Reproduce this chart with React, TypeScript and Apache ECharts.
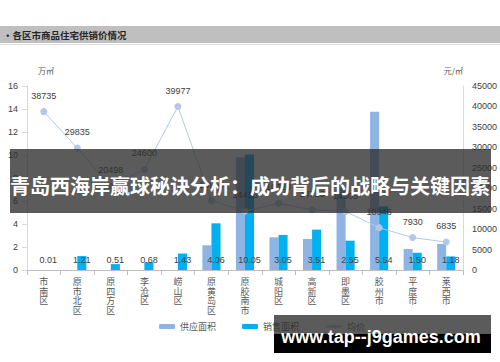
import React, { useEffect, useRef } from "react";
import * as echarts from "echarts";

const categories = ["市南区", "原市北区", "原四方区", "李沧区", "崂山区", "原黄岛区", "原胶南市", "城阳区", "高新区", "即墨区", "胶州市", "平度市", "莱西市"];
const supplyArea = [0, 0, 0, 0, 0, 2.15, 9.8, 2.84, 2.7, 7.2, 13.77, 1.83, 2.26];
const salesArea = [0.01, 1.21, 0.51, 0.68, 1.43, 4.06, 10.05, 3.05, 3.51, 2.55, 5.54, 1.5, 1.18];
const avgPrice = [38735, 29835, 20498, 24600, 39977, 16950, 14416, 16320, 14716, 14305, 10346, 7930, 6835];
const seriesNames = ["供应面积", "销售面积", "均价"];
const chartTitle = "•各区市商品住宅供销价情况";
const bannerText = "青岛西海岸赢球秘诀分析：成功背后的战略与关键因素";
const siteText = "www.tap--j9games.com";

const FONT = "'Liberation Sans', 'Noto Sans CJK SC', sans-serif";
const CJK = "'Noto Sans CJK SC', sans-serif";

export default function App() {
  const ref = useRef<HTMLDivElement>(null);
  useEffect(() => {
    if (!ref.current) return;
    const chart = echarts.init(ref.current, null, { renderer: "svg" });
    chart.setOption({
      animation: false,
      backgroundColor: "#ffffff",
      textStyle: { fontFamily: FONT },
      grid: { left: 27, right: 37, top: 86, bottom: 92, containLabel: false },
      legend: {
        left: 154,
        top: 317,
        itemWidth: 16,
        itemHeight: 5,
        itemGap: 26,
        textStyle: { fontSize: 9, color: "#595959", fontFamily: CJK },
        data: seriesNames,
      },
      xAxis: {
        type: "category",
        data: categories,
        axisLine: { lineStyle: { color: "#bfbfbf" } },
        axisTick: { show: true, length: 5, lineStyle: { color: "#bfbfbf" } },
        axisLabel: {
          interval: 0,
          margin: 7,
          fontSize: 9,
          lineHeight: 9.5,
          color: "#595959",
          fontFamily: CJK,
          formatter: (v: string) => v.split("").join("\n"),
        },
      },
      yAxis: [
        {
          type: "value",
          name: "万㎡",
          nameGap: 12,
          nameTextStyle: { fontSize: 8, color: "#595959", fontFamily: CJK, align: "left", padding: [0, 0, 0, 11] },
          min: 0,
          max: 16,
          interval: 2,
          axisLine: { show: true, lineStyle: { color: "#d9d9d9" } },
          axisTick: { show: true, length: 5, lineStyle: { color: "#d9d9d9" } },
          axisLabel: { fontSize: 9, color: "#404040", margin: 9 },
          splitLine: { show: false },
        },
        {
          type: "value",
          name: "元/㎡",
          nameGap: 12,
          nameTextStyle: { fontSize: 8, color: "#595959", fontFamily: CJK, align: "right", padding: [0, 0, 0, 0] },
          min: 0,
          max: 45000,
          interval: 5000,
          axisLine: { show: true, lineStyle: { color: "#d9d9d9" } },
          axisTick: { show: false },
          axisLabel: { fontSize: 9, color: "#404040", margin: 9, formatter: (v: number) => String(v) },
          splitLine: { show: false },
        },
      ],
      series: [
        {
          name: seriesNames[0],
          type: "bar",
          data: supplyArea,
          barWidth: "27%",
          barGap: "0%",
          itemStyle: { color: "#8eb4e3" },
        },
        {
          name: seriesNames[1],
          type: "bar",
          data: salesArea,
          barWidth: "27%",
          itemStyle: { color: "#00b0f0" },
          label: {
            show: true,
            position: "insideBottom",
            distance: 6,
            fontSize: 9,
            color: "#404040",
            formatter: (p: any) => Number(p.value).toFixed(2),
          },
        },
        {
          name: seriesNames[2],
          type: "line",
          yAxisIndex: 1,
          data: avgPrice,
          symbol: "circle",
          symbolSize: 7,
          lineStyle: { color: "#b4c7e7", width: 1 },
          itemStyle: { color: "#b4c7e7" },
          label: { show: true, position: "top", distance: 8, fontSize: 9, color: "#404040" },
          z: 5,
        },
      ],
      graphic: [
        {
          type: "rect",
          shape: { x: 0, y: 26, width: 500, height: 17 },
          style: { fill: "#bfbfbf" },
          z: 1,
        },
        {
          type: "rect",
          shape: { x: 0, y: 44, width: 500, height: 1 },
          style: { fill: "#e0e0e0" },
          z: 1,
        },
        {
          type: "text",
          x: 3,
          y: 35,
          style: {
            text: chartTitle,
            fontSize: 9.5,
            fontWeight: "bold",
            fill: "#262626",
            fontFamily: CJK,
            verticalAlign: "middle",
          },
          z: 2,
        },
        {
          type: "rect",
          shape: { x: 10, y: 149, width: 481, height: 64 },
          style: { fill: "rgba(45,45,45,0.78)" },
          z: 100,
        },
        {
          type: "text",
          x: 250,
          y: 185,
          style: {
            text: bannerText,
            fontSize: 20,
            fontWeight: "bold",
            fill: "#ffffff",
            fontFamily: CJK,
            align: "center",
            verticalAlign: "middle",
          },
          z: 101,
        },
        {
          type: "rect",
          shape: { x: 274, y: 315, width: 217, height: 19 },
          style: { fill: "rgba(45,45,45,0.78)" },
          z: 100,
        },
        {
          type: "rect",
          shape: { x: 274, y: 334, width: 217, height: 19 },
          style: { fill: "#000000" },
          z: 100,
        },
        {
          type: "text",
          x: 381,
          y: 337,
          style: {
            text: siteText,
            fontSize: 18,
            fontWeight: "bold",
            fill: "#ffffff",
            fontFamily: "'Liberation Sans', sans-serif",
            align: "center",
            verticalAlign: "middle",
          },
          z: 101,
        },
      ],
    });
    return () => chart.dispose();
  }, []);
  return (
    <div
      ref={ref}
      style={{ position: "fixed", left: 0, top: 0, width: 500, height: 362 }}
    />
  );
}
